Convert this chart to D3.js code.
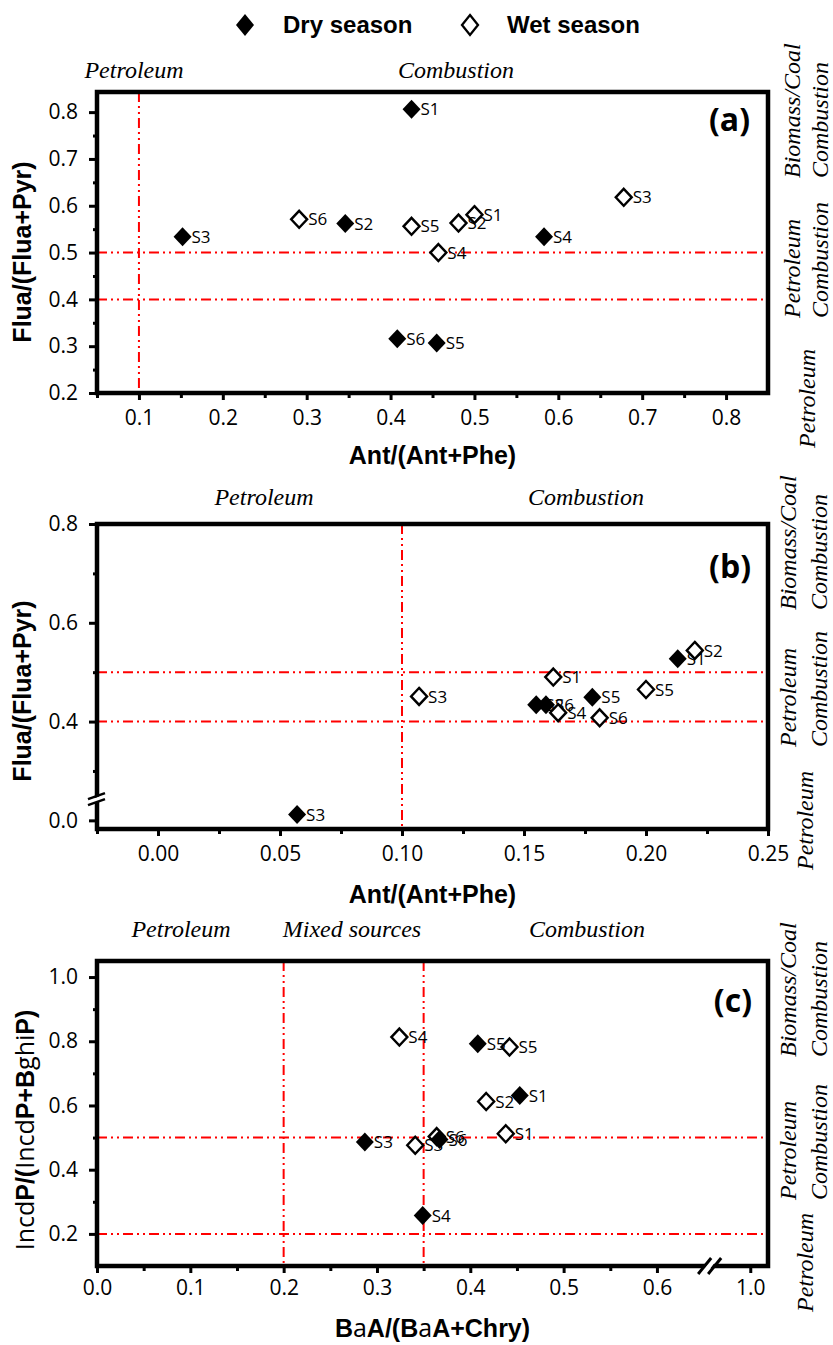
<!DOCTYPE html>
<html><head><meta charset="utf-8">
<script src="https://cdn.jsdelivr.net/npm/d3@7"></script>
<style>body{margin:0;background:#fff} svg{display:block}</style>
</head><body>
<svg id="chart" width="833" height="1345"></svg>
<script>
// ---------------- DATA ----------------
const seriesNames = ["Dry season", "Wet season"];

// Panel (a): Ant/(Ant+Phe) vs Flua/(Flua+Pyr)
const aDrySites = ["S1","S2","S3","S4","S5","S6"];
const aDryX = [0.425, 0.346, 0.152, 0.583, 0.455, 0.408];
const aDryY = [0.806, 0.562, 0.534, 0.534, 0.307, 0.316];
const aWetSites = ["S1","S2","S3","S4","S5","S6"];
const aWetX = [0.500, 0.481, 0.678, 0.457, 0.425, 0.291];
const aWetY = [0.581, 0.563, 0.618, 0.500, 0.556, 0.571];

// Panel (b): Ant/(Ant+Phe) vs Flua/(Flua+Pyr)
const bDrySites = ["S1","S2","S3","S5","S6"];
const bDryX = [0.213, 0.155, 0.057, 0.178, 0.159];
const bDryY = [0.527, 0.434, 0.012, 0.449, 0.434];
const bWetSites = ["S1","S2","S3","S4","S5","S6"];
const bWetX = [0.162, 0.220, 0.107, 0.164, 0.200, 0.181];
const bWetY = [0.490, 0.544, 0.451, 0.418, 0.465, 0.4075];

// Panel (c): BaA/(BaA+Chry) vs IncdP/(IncdP+BghiP)
const cDrySites = ["S1","S3","S4","S5","S6"];
const cDryX = [0.453, 0.287, 0.349, 0.408, 0.367];
const cDryY = [0.631, 0.486, 0.257, 0.7925, 0.494];
const cWetSites = ["S1","S2","S3","S4","S5","S6"];
const cWetX = [0.438, 0.417, 0.341, 0.324, 0.442, 0.364];
const cWetY = [0.512, 0.6125, 0.476, 0.813, 0.782, 0.503];

// Tick values
const aXTicks = [0.1,0.2,0.3,0.4,0.5,0.6,0.7,0.8];
const aXMinor = [0.05,0.15,0.25,0.35,0.45,0.55,0.65,0.75];
const aYTicks = [0.2,0.3,0.4,0.5,0.6,0.7,0.8];
const aYMinor = [0.25,0.35,0.45,0.55,0.65,0.75];
const bXTicks = [0.00,0.05,0.10,0.15,0.20,0.25];
const bXMinor = [-0.025,0.025,0.075,0.125,0.175,0.225];
const bYTicks = [0.0,0.4,0.6,0.8];
const bYMinor = [0.3,0.5,0.7];
const cXTicks = [0.0,0.1,0.2,0.3,0.4,0.5,0.6,1.0];
const cXMinor = [0.05,0.15,0.25,0.35,0.45,0.55];
const cYTicks = [0.2,0.4,0.6,0.8,1.0];
const cYMinor = [0.3,0.5,0.7,0.9];

// Source threshold lines
const aVLines = [0.1], aHLines = [0.5, 0.4];
const bVLines = [0.1], bHLines = [0.5, 0.4];
const cVLines = [0.2, 0.35], cHLines = [0.5, 0.2];

// ---------------- LAYOUT ----------------
const svg = d3.select("#chart");
const L = 97, R = 768;
const SANS = "'Open Sans', sans-serif";
const BOLD = "'Liberation Sans', Arial, sans-serif";
const SERIF = "'Liberation Serif', 'Times New Roman', serif";
const RED_DASH = "10,4,2,4,2,4";

function diamondPath(hw, hh){ return `M0,${-hh}L${hw},0L0,${hh}L${-hw},0Z`; }

function panel(cfg){
  const g = svg.append("g");
  const x = cfg.x, y = cfg.y;

  // threshold lines
  cfg.vLines.forEach(v => g.append("line")
    .attr("x1", x(v)).attr("x2", x(v)).attr("y1", cfg.top).attr("y2", cfg.bottom)
    .attr("stroke", "#ff0000").attr("stroke-width", 2).attr("stroke-dasharray", RED_DASH));
  cfg.hLines.forEach(v => g.append("line")
    .attr("x1", L).attr("x2", R).attr("y1", y(v)).attr("y2", y(v))
    .attr("stroke", "#ff0000").attr("stroke-width", 2).attr("stroke-dasharray", RED_DASH));

  // axes
  const styleAxis = sel => {
    sel.select(".domain").remove();
    sel.selectAll("line").attr("stroke", "#000").attr("stroke-width", 3);
    sel.attr("font-family", SANS).attr("font-size", 21);
    sel.selectAll("text").attr("fill", "#000");
  };
  g.append("g").attr("transform", `translate(0,${cfg.bottom})`)
    .call(d3.axisBottom(x).tickValues(cfg.xMinor).tickFormat("").tickSize(5)).call(styleAxis);
  g.append("g").attr("transform", `translate(0,${cfg.bottom})`)
    .call(d3.axisBottom(x).tickValues(cfg.xTicks).tickFormat(d3.format(cfg.xFmt)).tickSize(7).tickPadding(cfg.xPad)).call(styleAxis);
  g.append("g").attr("transform", `translate(${L},0)`)
    .call(d3.axisLeft(y).tickValues(cfg.yMinor).tickFormat("").tickSize(4)).call(styleAxis);
  g.append("g").attr("transform", `translate(${L},0)`)
    .call(d3.axisLeft(y).tickValues(cfg.yTicks).tickFormat(d3.format(".1f")).tickSize(8).tickPadding(11)).call(styleAxis);

  // points
  cfg.series.forEach(s => {
    const data = s.sites.map((n,i) => ({n, x: s.xs[i], y: s.ys[i]}));
    const pg = g.append("g");
    data.forEach(d => {
      const cx = x(d.x), cy = y(d.y);
      if (s.filled) {
        pg.append("path").attr("d", diamondPath(9, 9.5)).attr("transform", `translate(${cx},${cy})`)
          .attr("fill", "#000");
      } else {
        pg.append("path").attr("d", diamondPath(8, 8.5)).attr("transform", `translate(${cx},${cy})`)
          .attr("fill", "#fff").attr("stroke", "#000").attr("stroke-width", 2.4);
      }
      pg.append("text").attr("x", cx + 9).attr("y", cy).attr("dy", "0.36em")
        .attr("font-family", SANS).attr("font-size", 17).attr("fill", "#000").text(d.n);
    });
  });

  // frame
  g.append("rect").attr("x", L).attr("y", cfg.top).attr("width", R - L).attr("height", cfg.bottom - cfg.top)
    .attr("fill", "none").attr("stroke", "#000").attr("stroke-width", 4.5);

  // panel letter
  g.append("text").attr("x", cfg.letterX).attr("y", cfg.letterY).attr("text-anchor", "end")
    .attr("font-family", SANS).attr("font-weight", "bold").attr("font-size", 32).text(cfg.letter);

  // top source labels
  cfg.topLabels.forEach(t => g.append("text").attr("x", t.x).attr("y", cfg.topLabelY)
    .attr("text-anchor", "middle").attr("font-family", SERIF).attr("font-style", "italic")
    .attr("font-size", 24).text(t.text));

  // right rotated labels
  cfg.rightLabels.forEach(t => g.append("text")
    .attr("transform", `translate(${t.x},${t.y}) rotate(-90)`)
    .attr("font-family", SERIF).attr("font-style", "italic").attr("font-size", 24).text(t.text));

  // axis titles
  const xt = g.append("text").attr("x", (L + R) / 2).attr("y", cfg.xTitleY).attr("text-anchor", "middle")
    .attr("font-family", BOLD).attr("font-size", 25).attr("font-weight", "bold");
  cfg.xTitle.forEach(p => xt.append("tspan").attr("font-weight", p.b ? "bold" : "normal")
    .attr("font-family", p.b ? BOLD : SANS).text(p.t));
  const yt = g.append("text").attr("transform", `translate(${cfg.yTitleX},${cfg.yTitleY}) rotate(-90)`)
    .attr("text-anchor", "middle").attr("font-family", BOLD).attr("font-size", 25).attr("font-weight", "bold");
  cfg.yTitle.forEach(p => yt.append("tspan").attr("font-weight", p.b ? "bold" : "normal")
    .attr("font-family", p.b ? BOLD : SANS).text(p.t));

  return g;
}

// ---------------- PANEL (a) ----------------
const aTop = 92, aBot = 393;
const ax = d3.scaleLinear().domain([0.05, 0.85]).range([L, R]);
const ay = d3.scaleLinear().domain([0.2, 0.843]).range([aBot, aTop]);
panel({
  x: ax, y: ay, top: aTop, bottom: aBot,
  xTicks: aXTicks, xMinor: aXMinor, yTicks: aYTicks, yMinor: aYMinor, xFmt: ".1f", xPad: 10,
  vLines: aVLines, hLines: aHLines,
  series: [
    {sites: aDrySites, xs: aDryX, ys: aDryY, filled: true},
    {sites: aWetSites, xs: aWetX, ys: aWetY, filled: false}
  ],
  letter: "(a)", letterX: 750, letterY: 131,
  topLabelY: 78, topLabels: [{text: "Petroleum", x: 134}, {text: "Combustion", x: 456}],
  rightLabels: [
    {text: "Biomass/Coal", x: 800, y: 178}, {text: "Combustion", x: 828, y: 178},
    {text: "Petroleum", x: 800, y: 318}, {text: "Combustion", x: 828, y: 318},
    {text: "Petroleum", x: 815, y: 448}
  ],
  xTitleY: 464, xTitle: [{t: "Ant/(Ant+Phe)", b: true}],
  yTitleX: 31, yTitleY: 252, yTitle: [{t: "Flua/(Flua+Pyr)", b: true}]
});

// ---------------- PANEL (b) (broken y axis) ----------------
const bTop = 524, bBot = 829;
const bx = d3.scaleLinear().domain([-0.025, 0.25]).range([L, R]);
const bYLow = [-0.0175, 0.045], bYHigh = [0.245, 0.8];
const bK = (bBot - bTop) / ((bYLow[1] - bYLow[0]) + (bYHigh[1] - bYHigh[0]));
const bBreak = bBot - (bYLow[1] - bYLow[0]) * bK;
const by = d3.scaleLinear().domain([bYLow[0], bYLow[1], bYHigh[0], bYHigh[1]])
  .range([bBot, bBreak, bBreak, bTop]);
panel({
  x: bx, y: by, top: bTop, bottom: bBot,
  xTicks: bXTicks, xMinor: bXMinor, yTicks: bYTicks, yMinor: bYMinor, xFmt: ".2f", xPad: 10,
  vLines: bVLines, hLines: bHLines,
  series: [
    {sites: bDrySites, xs: bDryX, ys: bDryY, filled: true},
    {sites: bWetSites, xs: bWetX, ys: bWetY, filled: false}
  ],
  letter: "(b)", letterX: 751, letterY: 578,
  topLabelY: 505, topLabels: [{text: "Petroleum", x: 264}, {text: "Combustion", x: 586}],
  rightLabels: [
    {text: "Biomass/Coal", x: 796, y: 610}, {text: "Combustion", x: 827, y: 610},
    {text: "Petroleum", x: 796, y: 747}, {text: "Combustion", x: 827, y: 747},
    {text: "Petroleum", x: 813, y: 870}
  ],
  xTitleY: 903, xTitle: [{t: "Ant/(Ant+Phe)", b: true}],
  yTitleX: 31, yTitleY: 691, yTitle: [{t: "Flua/(Flua+Pyr)", b: true}]
});
// y-axis break marks
(function(){
  const g = svg.append("g");
  g.append("path").attr("d", `M${L-8},${bBreak+2}L${L+8},${bBreak-4}L${L+8},${bBreak+1}L${L-8},${bBreak+7}Z`).attr("fill", "#fff");
  g.append("line").attr("x1", L-9).attr("y1", bBreak+1).attr("x2", L+8).attr("y2", bBreak-5).attr("stroke", "#000").attr("stroke-width", 2.5);
  g.append("line").attr("x1", L-9).attr("y1", bBreak+7).attr("x2", L+8).attr("y2", bBreak+1).attr("stroke", "#000").attr("stroke-width", 2.5);
})();

// ---------------- PANEL (c) (broken x axis) ----------------
const cTop = 961, cBot = 1266;
const cXLow = [0, 0.657], cXHigh = [0.957, 1.019];
const cK = (R - L) / ((cXLow[1] - cXLow[0]) + (cXHigh[1] - cXHigh[0]));
const cBreak = L + (cXLow[1] - cXLow[0]) * cK;
const cx = d3.scaleLinear().domain([cXLow[0], cXLow[1], cXHigh[0], cXHigh[1]])
  .range([L, cBreak, cBreak, R]);
const cy = d3.scaleLinear().domain([0.1, 1.05]).range([cBot, cTop]);
panel({
  x: cx, y: cy, top: cTop, bottom: cBot,
  xTicks: cXTicks, xMinor: cXMinor, yTicks: cYTicks, yMinor: cYMinor, xFmt: ".1f", xPad: 7,
  vLines: cVLines, hLines: cHLines,
  series: [
    {sites: cWetSites, xs: cWetX, ys: cWetY, filled: false},
    {sites: cDrySites, xs: cDryX, ys: cDryY, filled: true}
  ],
  letter: "(c)", letterX: 752, letterY: 1012,
  topLabelY: 937, topLabels: [{text: "Petroleum", x: 181}, {text: "Mixed sources", x: 352}, {text: "Combustion", x: 587}],
  rightLabels: [
    {text: "Biomass/Coal", x: 796, y: 1057}, {text: "Combustion", x: 827, y: 1057},
    {text: "Petroleum", x: 796, y: 1200}, {text: "Combustion", x: 827, y: 1200},
    {text: "Petroleum", x: 813, y: 1312}
  ],
  xTitleY: 1337,
  xTitle: [{t: "B", b: true}, {t: "a", b: false}, {t: "A/(B", b: true}, {t: "a", b: false}, {t: "A+Chry)", b: true}],
  yTitleX: 34, yTitleY: 1130,
  yTitle: [{t: "Incd", b: false}, {t: "P/(", b: true}, {t: "Incd", b: false}, {t: "P+B", b: true}, {t: "ghi", b: false}, {t: "P)", b: true}]
});
// x-axis break marks
(function(){
  const g = svg.append("g");
  g.append("path").attr("d", `M${cBreak-10},${cBot+8}L${cBreak+2},${cBot-8}L${cBreak+8},${cBot-8}L${cBreak-4},${cBot+8}Z`).attr("fill", "#fff");
  g.append("line").attr("x1", cBreak-12).attr("y1", cBot+8).attr("x2", cBreak+1).attr("y2", cBot-8).attr("stroke", "#000").attr("stroke-width", 3);
  g.append("line").attr("x1", cBreak-2).attr("y1", cBot+8).attr("x2", cBreak+11).attr("y2", cBot-8).attr("stroke", "#000").attr("stroke-width", 3);
})();

// ---------------- LEGEND ----------------
const leg = svg.append("g");
const legendItems = [{name: seriesNames[0], filled: true, mx: 245, tx: 283}, {name: seriesNames[1], filled: false, mx: 470, tx: 507}];
legendItems.forEach(it => {
  const p = leg.append("path").attr("transform", `translate(${it.mx},25)`);
  if (it.filled) p.attr("d", diamondPath(9, 11)).attr("fill", "#000");
  else p.attr("d", diamondPath(8, 10)).attr("fill", "#fff").attr("stroke", "#000").attr("stroke-width", 2.3);
  leg.append("text").attr("x", it.tx).attr("y", 33).attr("font-family", BOLD).attr("font-weight", "bold")
    .attr("font-size", 24).text(it.name);
});
</script>
</body></html>
